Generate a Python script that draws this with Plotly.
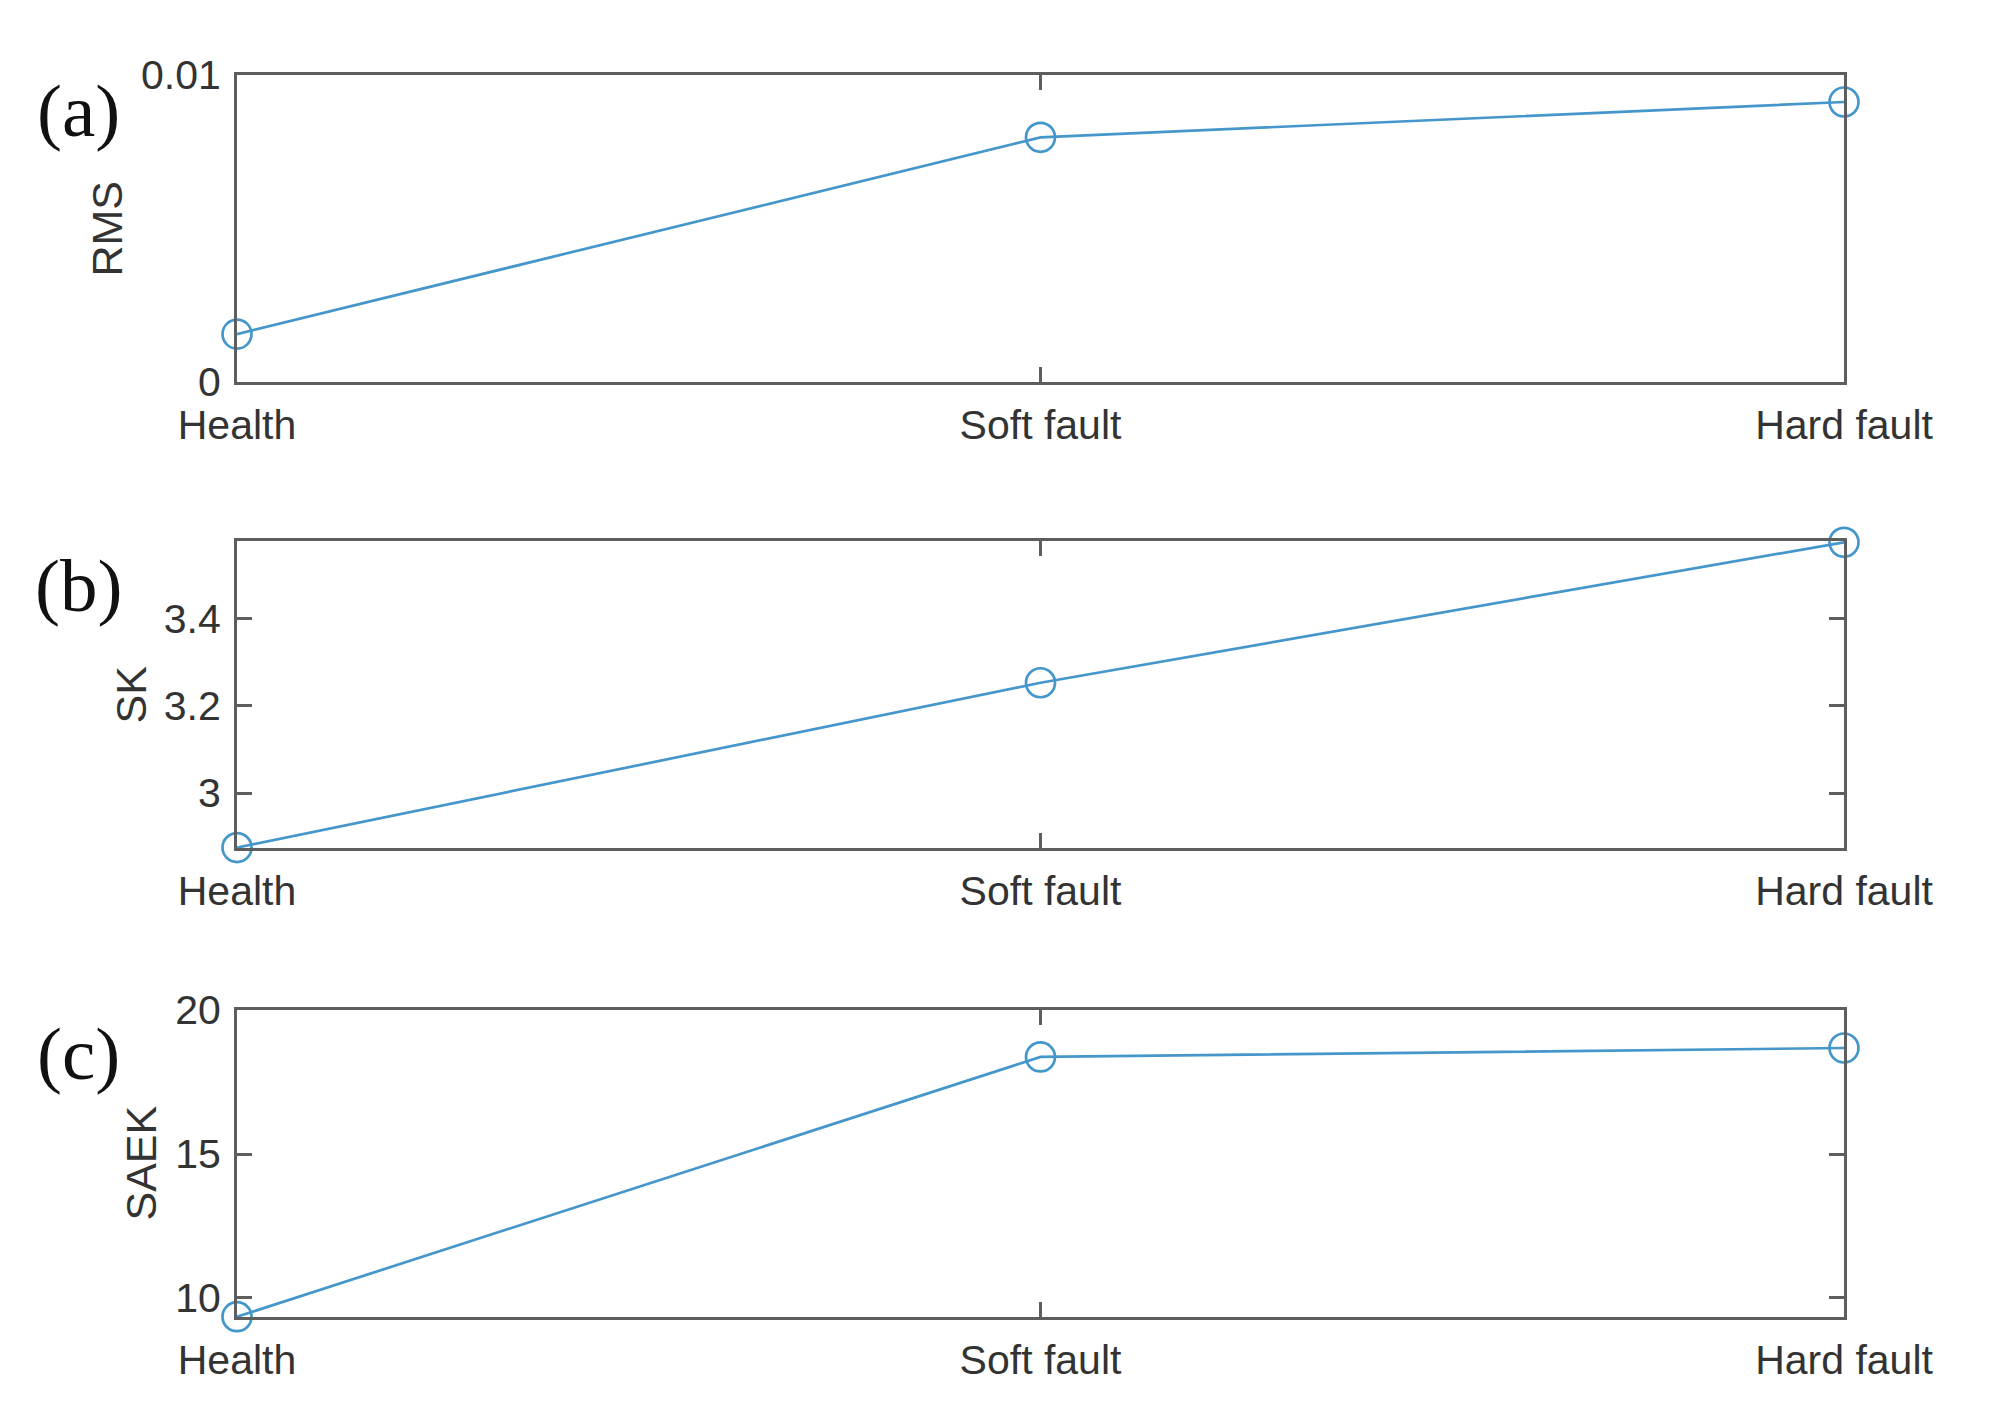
import plotly.graph_objects as go

categories = ["Health", "Soft fault", "Hard fault"]
rms_values = [0.00156, 0.00797, 0.00912]
sk_values = [2.875, 3.253, 3.575]
saek_values = [9.35, 18.37, 18.68]

panel_letters = ["(a)", "(b)", "(c)"]
y_titles = ["RMS", "SK", "SAEK"]
y_ranges = [[0, 0.01], [2.874, 3.578], [9.34, 20]]
y_tickvals = [[0, 0.01], [3, 3.2, 3.4], [10, 15, 20]]
y_ticktext = [["0", "0.01"], ["3", "3.2", "3.4"], ["10", "15", "20"]]

W, H = 2004, 1412
OFF = 8  # page body margin offset
# target pixel positions in the screenshot
left_px, right_px = 237, 1844
panels_px = [(75, 382), (541, 848), (1010, 1317)]

L = left_px - OFF
R = W - (right_px - OFF)
T = panels_px[0][0] - OFF
B = H - (panels_px[2][1] - OFF)
plot_h = H - T - B
plot_w = W - L - R

def py(px):
    return (H - B - (px - OFF)) / plot_h

def pxx(px):
    return ((px - OFF) - L) / plot_w

line_color = "#4596ca"
axis_color = "#5e5e5e"
text_color = "#333333"

fig = go.Figure()
series = [rms_values, sk_values, saek_values]

for i, vals in enumerate(series):
    n = i + 1
    xa = "x" if n == 1 else f"x{n}"
    ya = "y" if n == 1 else f"y{n}"
    fig.add_trace(go.Scatter(
        x=categories, y=vals, xaxis=xa, yaxis=ya, mode="lines+markers",
        line=dict(color=line_color, width=2.7),
        marker=dict(symbol="circle-open", size=29, color=line_color, line=dict(width=2.7)),
        cliponaxis=False, showlegend=False,
    ))
    top, bot = panels_px[i]
    xkey = "xaxis" if n == 1 else f"xaxis{n}"
    ykey = "yaxis" if n == 1 else f"yaxis{n}"
    fig.layout[xkey] = dict(
        domain=[0, 1], anchor=ya, type="category", categoryorder="array",
        categoryarray=categories, range=[0, 2],
        showline=True, linecolor=axis_color, linewidth=3, mirror="ticks",
        ticks="inside", ticklen=15, tickwidth=3, tickcolor=axis_color,
        showgrid=False, zeroline=False,
        tickfont=dict(family="Liberation Sans, Arial", size=41, color=text_color),
        ticklabelstandoff=5,
    )
    fig.layout[ykey] = dict(
        domain=[py(bot), py(top)], anchor=xa, range=y_ranges[i],
        tickmode="array", tickvals=y_tickvals[i], ticktext=y_ticktext[i],
        showline=True, linecolor=axis_color, linewidth=3, mirror="ticks",
        ticks="inside", ticklen=15, tickwidth=3, tickcolor=axis_color,
        showgrid=False, zeroline=False,
        tickfont=dict(family="Liberation Sans, Arial", size=41, color=text_color),
        ticklabelstandoff=5,
    )

annotations = []
letter_y = [110, 585, 1053]
title_x = [106, 130, 140]
for i in range(3):
    top, bot = panels_px[i]
    annotations.append(dict(
        text=panel_letters[i], xref="paper", yref="paper",
        x=pxx(78), y=py(letter_y[i]), xanchor="center", yanchor="middle",
        showarrow=False,
        font=dict(family="Liberation Serif, Times New Roman", size=75, color="#111111"),
    ))
    annotations.append(dict(
        text=y_titles[i], xref="paper", yref="paper",
        x=pxx(title_x[i]), y=py((top + bot) / 2), xanchor="center", yanchor="middle",
        textangle=-90, showarrow=False,
        font=dict(family="Liberation Sans, Arial", size=43, color=text_color),
    ))

fig.update_layout(
    width=W, height=H,
    margin=dict(l=L, r=R, t=T, b=B, autoexpand=False),
    plot_bgcolor="white", paper_bgcolor="white",
    annotations=annotations,
)

fig.write_html("out.html")
